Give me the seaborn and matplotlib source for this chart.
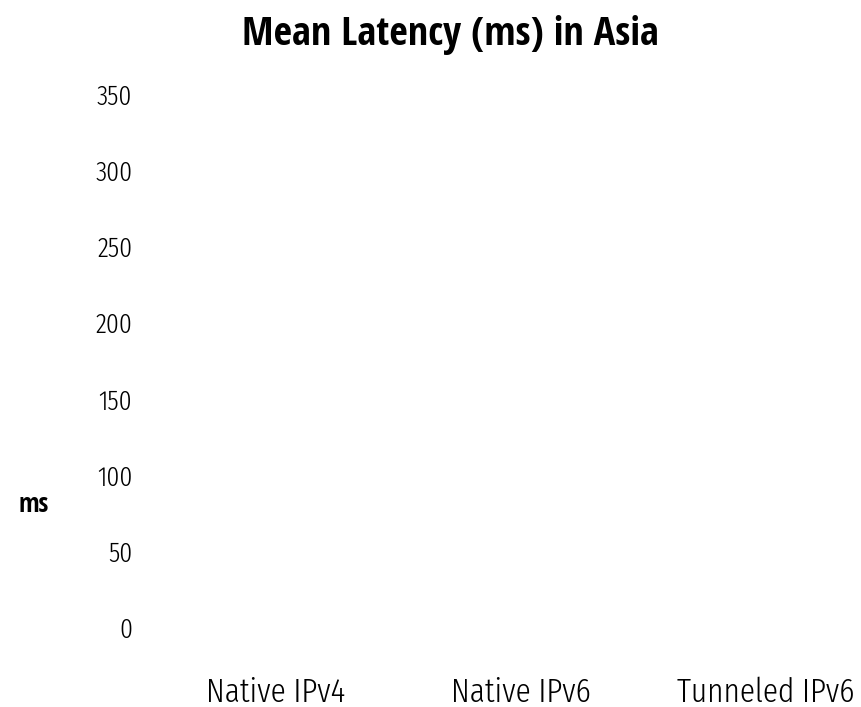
import matplotlib
matplotlib.use('Agg')
import matplotlib.pyplot as plt
import numpy as np
import pandas as pd
import seaborn as sns

# ── data (no bars are visible in the chart) ──────────────────
categories   = ['Native IPv4', 'Native IPv6', 'Tunneled IPv6']
mean_latency = [0, 0, 0]
y_ticks      = [0, 50, 100, 150, 200, 250, 300, 350]

df = pd.DataFrame({'connection': categories, 'latency': mean_latency})

sns.set_theme(style='white')
plt.rcParams['font.family'] = ['Fira Sans Extra Condensed', 'DejaVu Sans']
plt.rcParams['text.color'] = 'black'
plt.rcParams['xtick.color'] = 'black'
plt.rcParams['ytick.color'] = 'black'
plt.rcParams['axes.labelcolor'] = 'black'

fig = plt.figure(figsize=(8.62, 7.07), dpi=100)
ax = fig.add_axes([0.168, 0.112, 0.832, 0.755])

sns.barplot(data=df, x='connection', y='latency', color='white',
            linewidth=0, errorbar=None, ax=ax)

ax.set_xlim(-0.535, 2.392)
ax.set_ylim(0, 350)
ax.set_yticks(y_ticks)
ax.set_yticklabels([str(v) for v in y_ticks], fontsize=20, fontweight=300)
ax.set_xticks(range(len(categories)))
ax.set_xticklabels(categories, fontsize=24.5, fontweight=300)
ax.tick_params(axis='y', length=0, pad=9)
ax.tick_params(axis='x', length=0, pad=35)
sns.despine(ax=ax, left=True, bottom=True)
ax.set_xlabel('')

ax.set_ylabel('ms', rotation=0, fontsize=19, fontweight='bold',
              family=['Open Sans Condensed', 'DejaVu Sans'])
ax.yaxis.set_label_coords(-0.155, 0.205)

fig.text(0.522, 0.937, 'Mean Latency (ms) in Asia', ha='center', va='baseline',
         fontsize=29, fontweight='bold', family=['Open Sans Condensed', 'DejaVu Sans'])

fig.savefig('out.png', dpi=100)
plt.close()
